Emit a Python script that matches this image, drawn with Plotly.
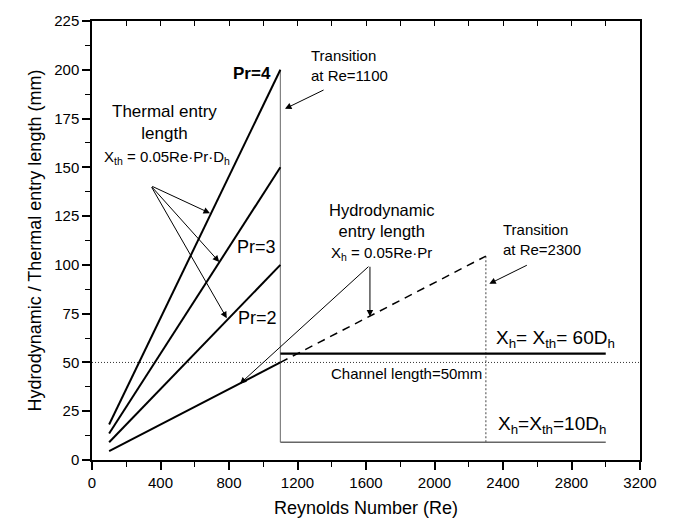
import plotly.graph_objects as go

# ---------------- data ----------------
re_lam = [100, 1100]               # laminar range of Re
pr4 = [18.2, 200.0]                # thermal entry length, Pr=4 (mm)
pr3 = [13.6, 150.0]                # Pr=3
pr2 = [9.1, 100.0]                 # Pr=2
hydro_solid = [4.5, 50.0]          # hydrodynamic entry length (mm)
re_hydro_dash = [1100, 2300]
hydro_dash = [50.0, 104.5]
re_flat = [1100, 3000]
flat_60dh = [54.5, 54.5]           # Xh = Xth = 60 Dh
flat_10dh = [9.1, 9.1]             # Xh = Xth = 10 Dh
trans1_x = [1100, 1100]
trans1_y = [9.1, 200.0]
trans2_x = [2300, 2300]
trans2_y = [9.1, 104.5]
channel_x = [0, 3200]
channel_y = [50.0, 50.0]

x_ticks = [0, 400, 800, 1200, 1600, 2000, 2400, 2800, 3200]
y_ticks = [0, 25, 50, 75, 100, 125, 150, 175, 200, 225]
top_ticks = list(range(0, 3201, 200))

FONT = "Arial, Liberation Sans, Helvetica, sans-serif"

fig = go.Figure()

def line(x, y, width=2, color="black", dash="solid"):
    fig.add_trace(go.Scatter(x=x, y=y, mode="lines",
                             line=dict(color=color, width=width, dash=dash),
                             showlegend=False, hoverinfo="skip"))

line(channel_x, channel_y, width=1, color="#333333", dash="1px,2px")
line(trans1_x, trans1_y, width=1.2, color="#808080")
line(trans2_x, trans2_y, width=1, color="#444444", dash="2px,2px")
line(re_flat, flat_10dh, width=1.6, color="#666666")
line(re_lam, pr4)
line(re_lam, pr3)
line(re_lam, pr2)
line(re_lam, hydro_solid)
line(re_hydro_dash, hydro_dash, width=1.5, dash="8px,6px")
line(re_flat, flat_60dh, width=2.4)

# invisible trace so the top (inward-tick) axis is drawn
fig.add_trace(go.Scatter(x=[0], y=[0], xaxis="x2", yaxis="y", mode="markers",
                         marker=dict(opacity=0), showlegend=False, hoverinfo="skip"))

anns = []

def text(x, y, t, size=15, xanchor="center", yanchor="middle", align="center"):
    anns.append(dict(x=x, y=y, xref="x", yref="y", text=t, showarrow=False,
                     font=dict(family=FONT, size=size, color="black"),
                     xanchor=xanchor, yanchor=yanchor, align=align))

def arrow(x0, y0, x1, y1):
    anns.append(dict(x=x1, y=y1, ax=x0, ay=y0, xref="x", yref="y",
                     axref="x", ayref="y", text="", showarrow=True,
                     arrowhead=2, arrowsize=1.3, arrowwidth=1,
                     arrowcolor="black", standoff=0))

text(1057, 198, "<b>Pr=4</b>", size=17, xanchor="right")
text(958, 109, "Pr=3", size=18)
text(969, 73, "Pr=2", size=18)

text(426, 173, "Thermal entry<br>length", size=17)
text(436, 155, "X<sub>th</sub> = 0.05Re·Pr·D<sub>h</sub>", size=15)
arrow(343, 140.6, 689, 126.5)
arrow(343, 140.6, 743, 101.5)
arrow(343, 140.6, 787, 72.7)

text(1267, 202, "Transition<br>at Re=1100", size=15, xanchor="left", align="left")
arrow(1361, 190, 1127, 180)

text(1692, 123, "Hydrodynamic<br>entry length", size=16.5)
text(1693, 106, "X<sub>h</sub> = 0.05Re·Pr", size=15)
arrow(1623, 99.8, 1623, 73.5)
arrow(1623, 99.8, 864, 39.1)

text(2386, 113, "Transition<br>at Re=2300", size=15, xanchor="left", align="left")
arrow(2548, 100.2, 2320, 90.3)

text(2709, 62, "X<sub>h</sub>= X<sub>th</sub>= 60D<sub>h</sub>", size=19)
text(1834, 44.5, "Channel length=50mm", size=15)
text(2689, 17.8, "X<sub>h</sub>=X<sub>th</sub>=10D<sub>h</sub>", size=19)

fig.update_layout(
    width=673, height=528,
    margin=dict(l=92, r=33, t=18, b=68),
    paper_bgcolor="white", plot_bgcolor="white",
    font=dict(family=FONT, color="black"),
    annotations=anns,
    xaxis=dict(range=[0, 3200], tickvals=x_ticks, ticktext=[str(v) for v in x_ticks],
               ticks="outside", ticklen=8, tickwidth=1.5, tickcolor="black",
               showline=True, linewidth=1.5, linecolor="black", mirror=True,
               showgrid=False, zeroline=False,
               minor=dict(tick0=0, dtick=200, ticks="outside", ticklen=5,
                          tickwidth=1.2, tickcolor="black", showgrid=False),
               tickfont=dict(size=15, family=FONT, color="black"),
               title=dict(text="Reynolds Number (Re)", font=dict(size=18, family=FONT),
                          standoff=12)),
    xaxis2=dict(range=[0, 3200], overlaying="x", side="top", tickvals=top_ticks,
                ticks="inside", ticklen=5, tickwidth=1.2, tickcolor="black",
                showticklabels=False, showline=False, showgrid=False, zeroline=False),
    yaxis=dict(range=[0, 225], tickvals=y_ticks, ticktext=[str(v) for v in y_ticks],
               ticks="outside", ticklen=8, tickwidth=1.5, tickcolor="black",
               showline=True, linewidth=1.5, linecolor="black", mirror=True,
               showgrid=False, zeroline=False,
               minor=dict(tick0=0, dtick=12.5, ticks="outside", ticklen=5,
                          tickwidth=1.2, tickcolor="black", showgrid=False),
               tickfont=dict(size=15, family=FONT, color="black"),
               title=dict(text="Hydrodynamic / Thermal entry length (mm)",
                          font=dict(size=18, family=FONT), standoff=8)),
)

fig.write_html("out.html")
